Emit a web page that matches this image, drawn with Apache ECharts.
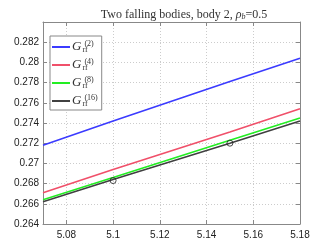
<!DOCTYPE html>
<html><head><meta charset="utf-8">
<script src="https://cdn.jsdelivr.net/npm/echarts@6/dist/echarts.min.js"></script>
<style>html,body{margin:0;padding:0;background:#fff}#c{width:334px;height:252px}</style>
</head><body><div id="c"></div>
<script>
var xTicks = [5.08, 5.10, 5.12, 5.14, 5.16, 5.18];
var xs = [5.07, 5.10, 5.15, 5.18];
var g2 = [0.2718, 0.2742, 0.2781, 0.2804];
var g4 = [0.2671, 0.2694, 0.2731, 0.2754];
var g8 = [0.2664, 0.2686, 0.2723, 0.2745];
var g16 = [0.2662, 0.2684, 0.2720, 0.2742];
var markX = [5.10, 5.15];
var markY = [0.2683, 0.2720];
var names = ['(2)', '(4)', '(8)', '(16)'];
var colors = ['#3b3bff', '#f0506a', '#22ee22', '#404040'];
function pairs(a, b) { return a.map(function (v, i) { return [v, b[i]]; }); }
var chart = echarts.init(document.getElementById('c'));
var fmt = function (v) { return String(parseFloat(v.toFixed(3))); };
var axisCommon = {
  axisLine: { show: true, lineStyle: { color: '#888', width: 1 } },
  axisTick: { show: true, inside: true, length: 4, lineStyle: { color: '#888' } },
  splitLine: { show: false }
};
var series = [g2, g4, g8, g16].map(function (d, i) {
  return { name: names[i], type: 'line', data: pairs(xs, d), showSymbol: false, symbol: 'none',
    lineStyle: { color: colors[i], width: 1.6 }, itemStyle: { color: colors[i] }, z: 3 + i };
});
series.push({ name: 'marks', type: 'scatter', data: pairs(markX, markY), symbol: 'circle', symbolSize: 6,
  itemStyle: { color: 'rgba(0,0,0,0)', borderColor: '#222', borderWidth: 1 }, z: 10 });
chart.setOption({
  animation: false,
  title: { text: 'Two falling bodies, body 2, {i|ρ}{s|b}=0.5', left: 179, textAlign: 'center', top: 4,
    textStyle: { fontFamily: 'Liberation Serif', fontWeight: 'normal', fontSize: 12, color: '#333',
      rich: { i: { fontFamily: 'Liberation Serif', fontStyle: 'italic', fontSize: 12, color: '#333' },
              s: { fontFamily: 'Liberation Serif', fontStyle: 'italic', fontSize: 8, color: '#333', verticalAlign: 'bottom', padding: [4, 0, 0, 0] } } } },
  grid: { left: 43, right: 34, top: 22, bottom: 28, show: false },
  legend: { data: names, left: 50, top: 36, orient: 'vertical', itemGap: 4, itemWidth: 18, itemHeight: 14,
    backgroundColor: '#fff', borderColor: '#888', borderWidth: 1, padding: [4, 4, 2, 2],
    icon: 'path://M0,6 L18,6 L18,8 L0,8 Z',
    formatter: function (n) { return '{g|G}{sb|rf}{sp|' + n + '}'; },
    textStyle: { color: '#333', padding: [0, 0, 0, -3],
      rich: { g: { fontFamily: 'Liberation Serif', fontStyle: 'italic', fontSize: 13, color: '#333' },
              sb: { fontFamily: 'Liberation Serif', fontSize: 8, color: '#333', width: 1, align: 'left', verticalAlign: 'bottom', padding: [6, 0, 0, 1] },
              sp: { fontFamily: 'Liberation Serif', fontSize: 8, color: '#333', verticalAlign: 'top', padding: [0, 0, 6, 1] } } } },
  xAxis: [
    Object.assign({ type: 'value', min: 5.07, max: 5.18, position: 'bottom',
      axisLabel: { customValues: xTicks, fontFamily: 'Liberation Sans', fontSize: 10, color: '#222', margin: 6, formatter: fmt },
      splitLine: { show: true, lineStyle: { color: '#ccc', type: [1, 2] } } }, axisCommon,
      { axisTick: { show: true, inside: true, length: 4, customValues: xTicks, lineStyle: { color: '#888' } },
        splitLine: { show: true, lineStyle: { color: '#ccc', type: [1, 2] } } }),
    Object.assign({ type: 'value', min: 5.07, max: 5.18, position: 'top', axisLabel: { show: false } }, axisCommon,
      { axisTick: { show: true, inside: true, length: 4, customValues: xTicks, lineStyle: { color: '#888' } } })
  ],
  yAxis: [
    Object.assign({ type: 'value', min: 0.264, max: 0.284, interval: 0.002, position: 'left',
      axisLabel: { fontFamily: 'Liberation Sans', fontSize: 10, color: '#222', margin: 4, formatter: fmt, showMaxLabel: false } }, axisCommon,
      { splitLine: { show: true, lineStyle: { color: '#ccc', type: [1, 2] } } }),
    Object.assign({ type: 'value', min: 0.264, max: 0.284, interval: 0.002, position: 'right', axisLabel: { show: false } }, axisCommon)
  ],
  series: series
});
</script></body></html>
